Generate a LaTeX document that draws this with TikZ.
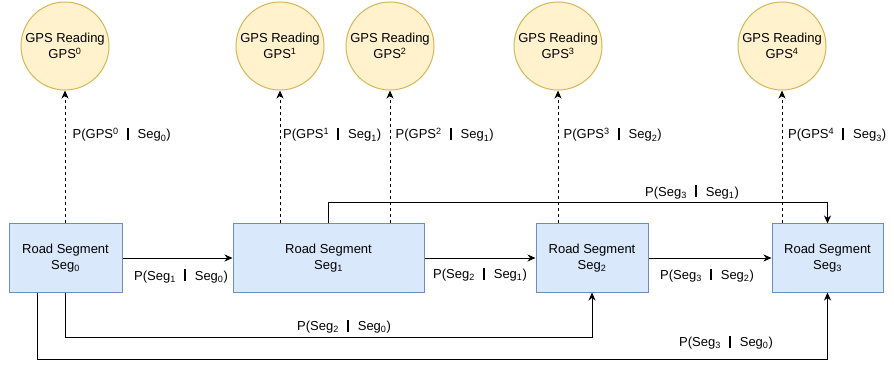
\documentclass[tikz,border=0pt]{standalone}
\usepackage{fontspec}
\setmainfont{Liberation Sans}
\usetikzlibrary{arrows.meta,calc}

\definecolor{gpsfill}{HTML}{FFF2CC}
\definecolor{gpsline}{HTML}{D6B656}
\definecolor{segfill}{HTML}{DAE8FC}
\definecolor{segline}{HTML}{6C8EBF}

% thick conditioning bar and script helpers
\newcommand{\cbar}{\hspace{8pt}\rule[-1pt]{2pt}{12pt}\hspace{9pt}}
\newcommand{\subx}[1]{\textsubscript{#1}}
\newcommand{\supx}[1]{\textsuperscript{#1}}

\begin{document}
\begin{tikzpicture}[x=1pt,y=-1pt,
  font=\fontsize{13}{15.5}\selectfont,
  gps/.style={circle, draw=gpsline, fill=gpsfill, line width=1pt,
    minimum size=88pt, inner sep=0pt, align=center},
  seg/.style={rectangle, draw=segline, fill=segfill, line width=1pt,
    inner sep=0pt, align=center, minimum height=68pt},
  link/.style={line width=1pt, -{Stealth[length=8pt,width=7pt,inset=2.5pt]}},
  obs/.style={link, dash pattern=on 3pt off 3pt},
  lbl/.style={inner sep=0pt}]

\useasboundingbox (0,0) rectangle (894,366);

% GPS readings
\node[gps] (gps0) at (65,46)  {GPS Reading\\GPS\supx{0}};
\node[gps] (gps1) at (280,46) {GPS Reading\\GPS\supx{1}};
\node[gps] (gps2) at (390,46) {GPS Reading\\GPS\supx{2}};
\node[gps] (gps3) at (558,46) {GPS Reading\\GPS\supx{3}};
\node[gps] (gps4) at (782,46) {GPS Reading\\GPS\supx{4}};

% road segments
\node[seg, minimum width=113pt] (seg0) at (65.5,258)  {Road Segment\\Seg\subx{0}};
\node[seg, minimum width=191pt] (seg1) at (328.5,258) {Road Segment\\Seg\subx{1}};
\node[seg, minimum width=112pt] (seg2) at (592,258)   {Road Segment\\Seg\subx{2}};
\node[seg, minimum width=111pt] (seg3) at (827.5,258) {Road Segment\\Seg\subx{3}};

% emission links
\draw[obs] (gps0.south |- seg0.north) -- (gps0.south);
\draw[obs] (gps1.south |- seg1.north) -- (gps1.south);
\draw[obs] (gps2.south |- seg1.north) -- (gps2.south);
\draw[obs] (gps3.south |- seg2.north) -- (gps3.south);
\draw[obs] (gps4.south |- seg3.north) -- (gps4.south);

% transition links
\draw[link] (seg0) -- (seg1);
\draw[link] (seg1) -- (seg2);
\draw[link] (seg2) -- (seg3);
\draw[link] (seg1.north) -- ++(0,-21) -| (seg3.north);
\draw[link] (seg0.south) -- ++(0,45) -| (seg2.south);
\draw[link] ([xshift=-28pt]seg0.south) -- ++(0,67) -| (seg3.south);

% emission probabilities
\node[lbl, anchor=base west] (e0) at (72.5,139) {P(GPS\supx{0}\cbar Seg\subx{0})};
\node[lbl, anchor=base west] (e1) at (283,139)  {P(GPS\supx{1}\cbar Seg\subx{1})};
\node[lbl, anchor=base west] (e2) at (395.5,139) {P(GPS\supx{2}\cbar Seg\subx{1})};
\node[lbl, anchor=base west] (e3) at (563.5,139) {P(GPS\supx{3}\cbar Seg\subx{2})};
\node[lbl, anchor=base west] (e4) at (788,139)  {P(GPS\supx{4}\cbar Seg\subx{3})};

% transition probabilities
\node[lbl, anchor=base] (t10) at (181,280)   {P(Seg\subx{1}\cbar Seg\subx{0})};
\node[lbl, anchor=base] (t21) at (480,278.5) {P(Seg\subx{2}\cbar Seg\subx{1})};
\node[lbl, anchor=base] (t32) at (707,279.5) {P(Seg\subx{3}\cbar Seg\subx{2})};
\node[lbl, anchor=base] (t20) at (344,330.5) {P(Seg\subx{2}\cbar Seg\subx{0})};
\node[lbl, anchor=base] (t31) at (692,196.5) {P(Seg\subx{3}\cbar Seg\subx{1})};
\node[lbl, anchor=base] (t30) at (726,346.5) {P(Seg\subx{3}\cbar Seg\subx{0})};
\end{tikzpicture}
\end{document}
